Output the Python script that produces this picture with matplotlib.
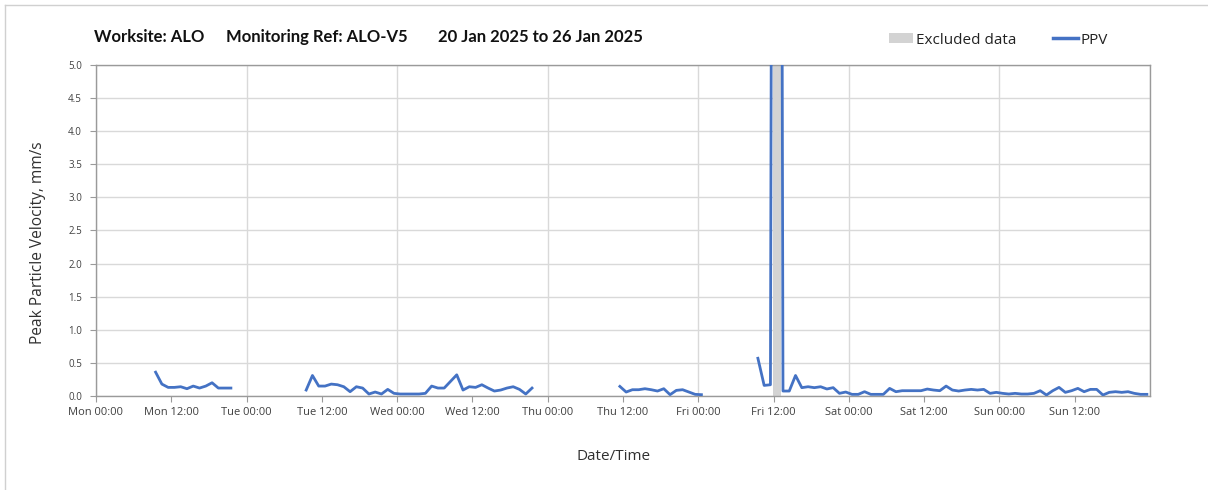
import numpy as np
import pandas as pd
import matplotlib
matplotlib.use('Agg')
import matplotlib.pyplot as plt
import matplotlib.dates as mdates
from matplotlib.patches import Patch
from matplotlib.lines import Line2D

plt.rcParams['font.family'] = ['Open Sans', 'DejaVu Sans']

# hourly PPV readings (taken at half past), one list per recording block, mm/s
seg_starts = ['2025-01-20 09:30', '2025-01-21 09:30', '2025-01-23 11:30', '2025-01-24 09:30']
seg1 = [0.36, 0.18, 0.13, 0.13, 0.14, 0.11, 0.15, 0.12, 0.15, 0.20, 0.12, 0.12, 0.12]
seg2 = [0.09, 0.31, 0.15, 0.15, 0.18, 0.17, 0.14, 0.065, 0.14, 0.12, 0.03, 0.06, 0.03,
        0.10, 0.04, 0.03, 0.03, 0.03, 0.03, 0.04, 0.15, 0.12, 0.12, 0.22, 0.32, 0.09,
        0.14, 0.13, 0.17, 0.12, 0.075, 0.09, 0.12, 0.14, 0.10, 0.03, 0.12]
seg3 = [0.145, 0.06, 0.095, 0.095, 0.11, 0.095, 0.075, 0.11, 0.02, 0.085, 0.095, 0.06,
        0.025, 0.02]
seg4 = [0.57, 0.16, 0.17, 40.0, 0.075, 0.075, 0.31, 0.126, 0.14, 0.126, 0.14, 0.106,
        0.126, 0.04, 0.06, 0.025, 0.025, 0.065, 0.025, 0.025, 0.025, 0.115, 0.065, 0.08,
        0.08, 0.08, 0.08, 0.105, 0.09, 0.08, 0.15, 0.09, 0.075, 0.09, 0.10, 0.09, 0.10,
        0.04, 0.055, 0.04, 0.03, 0.04, 0.03, 0.03, 0.04, 0.08, 0.015, 0.08, 0.13, 0.055,
        0.08, 0.115, 0.065, 0.10, 0.10, 0.015, 0.055, 0.065, 0.055, 0.065, 0.04, 0.025,
        0.025]
segments = [seg1, seg2, seg3, seg4]

excluded_start = '2025-01-24 11:55'
excluded_end = '2025-01-24 13:10'

week_start = '2025-01-20 00:00'
week_end = '2025-01-27 00:00'

# one hourly (hh:30) index so the gaps between blocks break the line
parts = [pd.Series(v, index=pd.date_range(s, periods=len(v), freq='h'))
         for s, v in zip(seg_starts, segments)]
full_idx = pd.date_range('2025-01-20 00:30', week_end, freq='h', inclusive='left')
ppv = pd.concat(parts).reindex(full_idx)

W, H = 1208, 490
fig = plt.figure(figsize=(W / 100, H / 100), dpi=100)
ax = fig.add_axes([96 / W, 1 - 396 / H, (1150 - 96) / W, (396 - 65) / H])

blue = '#4472C4'
ax.axvspan(pd.Timestamp(excluded_start), pd.Timestamp(excluded_end), color='#d3d3d3', zorder=2, lw=0)
ax.plot(ppv.index, ppv.values, color=blue, lw=2.0, zorder=3)

ax.set_xlim(pd.Timestamp(week_start), pd.Timestamp(week_end))
ax.set_ylim(0, 5)
ax.set_yticks(np.arange(0, 5.01, 0.5))
ax.yaxis.set_major_formatter(plt.FormatStrFormatter('%.1f'))

ax.set_xticks(pd.date_range(week_start, week_end, freq='12h', inclusive='left'))
ax.xaxis.set_major_formatter(mdates.DateFormatter('%a %H:%M'))
ax.xaxis.set_minor_locator(mdates.DayLocator())
ax.xaxis.remove_overlapping_locs = False

ax.grid(axis='y', color='#d9d9d9', lw=1.0, zorder=1)
ax.grid(axis='x', which='minor', color='#d9d9d9', lw=1.0, zorder=1)
ax.set_axisbelow(True)

for sp in ax.spines.values():
    sp.set_color('#9a9a9a')
    sp.set_linewidth(1.0)
ax.tick_params(axis='both', which='major', length=4, color='#9a9a9a', labelcolor='#404040')
ax.tick_params(axis='x', which='major', labelsize=8, pad=4)
ax.tick_params(axis='y', which='major', labelsize=7, pad=6)
ax.tick_params(axis='x', which='minor', length=0)

ax.set_ylabel('Peak Particle Velocity, mm/s', fontsize=11.2, color='#303030')
ax.yaxis.set_label_coords(-50 / 1054, (396 - 243) / 331)
ax.set_xlabel('Date/Time', fontsize=11, color='#303030')
ax.xaxis.set_label_coords((614 - 96) / 1054, -(449 - 396) / 331)

# title in three pieces, like the report header
title_y = 1 - 37 / H
tkw = dict(fontsize=12.0, fontweight='bold', va='center', color='#111111', family=['Lato', 'DejaVu Sans'])
fig.text(94 / W, title_y, 'Worksite: ALO', **tkw)
fig.text(226 / W, title_y, 'Monitoring Ref: ALO-V5', **tkw)
fig.text(438 / W, title_y, '20 Jan 2025 to 26 Jan 2025', **tkw)

handles = [Patch(facecolor='#d3d3d3', edgecolor='none', label='Excluded data'),
           Line2D([], [], color=blue, lw=2.5, label='PPV')]
fig.legend(handles=handles, loc='center left', bbox_to_anchor=(875 / W, 1 - 40 / H), ncol=2,
           frameon=False, fontsize=11, handlelength=1.6, handletextpad=0.2,
           columnspacing=2.4, labelcolor='#222222')

# thin outer frame of the chart panel
fig.add_artist(Line2D([5 / W, 1], [1 - 5 / H, 1 - 5 / H], color='#d0d0d0', lw=1))
fig.add_artist(Line2D([5 / W, 5 / W], [0, 1 - 5 / H], color='#d0d0d0', lw=1))

fig.savefig('out.png', dpi=100)
